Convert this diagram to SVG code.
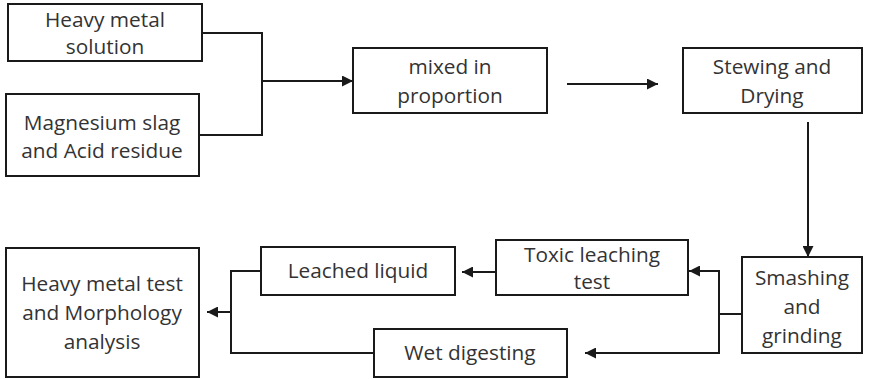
<svg xmlns="http://www.w3.org/2000/svg" width="871" height="380" viewBox="0 0 871 380">
<defs>
<marker id="ah" viewBox="0 0 10 10" refX="10" refY="5" markerWidth="11" markerHeight="11" markerUnits="userSpaceOnUse" orient="auto"><path d="M0,0 L10,5 L0,10 z" fill="#1a1a1a"/></marker>
<style>
.box{fill:#fff;stroke:#1a1a1a;stroke-width:2}
.t{font-family:"Open Sans",sans-serif;font-size:20.8px;fill:#333;text-anchor:middle}
.c{fill:none;stroke:#1a1a1a;stroke-width:2}
</style>
</defs>
<rect width="871" height="380" fill="#fff"/>
<g id="n1"><rect class="box" x="8" y="4" width="194" height="57"/><text class="t" x="105" y="27">Heavy metal</text><text class="t" x="105" y="54">solution</text></g>
<g id="n2"><rect class="box" x="6" y="94" width="193" height="82"/><text class="t" x="102" y="130">Magnesium slag</text><text class="t" x="102" y="158">and Acid residue</text></g>
<g id="n3"><rect class="box" x="353" y="48" width="194" height="65"/><text class="t" x="450" y="74">mixed in</text><text class="t" x="450" y="103">proportion</text></g>
<g id="n4"><rect class="box" x="683" y="48" width="179" height="65"/><text class="t" x="772" y="74">Stewing and</text><text class="t" x="772" y="103">Drying</text></g>
<g id="n5"><rect class="box" x="742" y="257" width="120" height="96"/><text class="t" x="802" y="285">Smashing</text><text class="t" x="802" y="314">and</text><text class="t" x="802" y="343">grinding</text></g>
<g id="n6"><rect class="box" x="496" y="240" width="192" height="55"/><text class="t" x="592" y="262">Toxic leaching</text><text class="t" x="592" y="289">test</text></g>
<g id="n7"><rect class="box" x="261" y="247" width="194" height="48"/><text class="t" x="358" y="278">Leached liquid</text></g>
<g id="n8"><rect class="box" x="374" y="329" width="193" height="48"/><text class="t" x="470" y="360">Wet digesting</text></g>
<g id="n9"><rect class="box" x="6" y="248" width="193" height="129"/><text class="t" x="102" y="291">Heavy metal test</text><text class="t" x="102" y="320">and Morphology</text><text class="t" x="102" y="349">analysis</text></g>
<g id="connectors">
<path class="c" d="M202,33 H262 V135 H199"/>
<path class="c" d="M262,81 H353" marker-end="url(#ah)"/>
<path class="c" d="M567,84 H658" marker-end="url(#ah)"/>
<path class="c" d="M808,122 V257" marker-end="url(#ah)"/>
<path class="c" d="M742,314 H719"/>
<path class="c" d="M719,314 V271 H689" marker-end="url(#ah)"/>
<path class="c" d="M719,314 V353 H585" marker-end="url(#ah)"/>
<path class="c" d="M496,272 H462" marker-end="url(#ah)"/>
<path class="c" d="M261,271 H231 V353 H374"/>
<path class="c" d="M231,312 H207" marker-end="url(#ah)"/>
</g>
</svg>
